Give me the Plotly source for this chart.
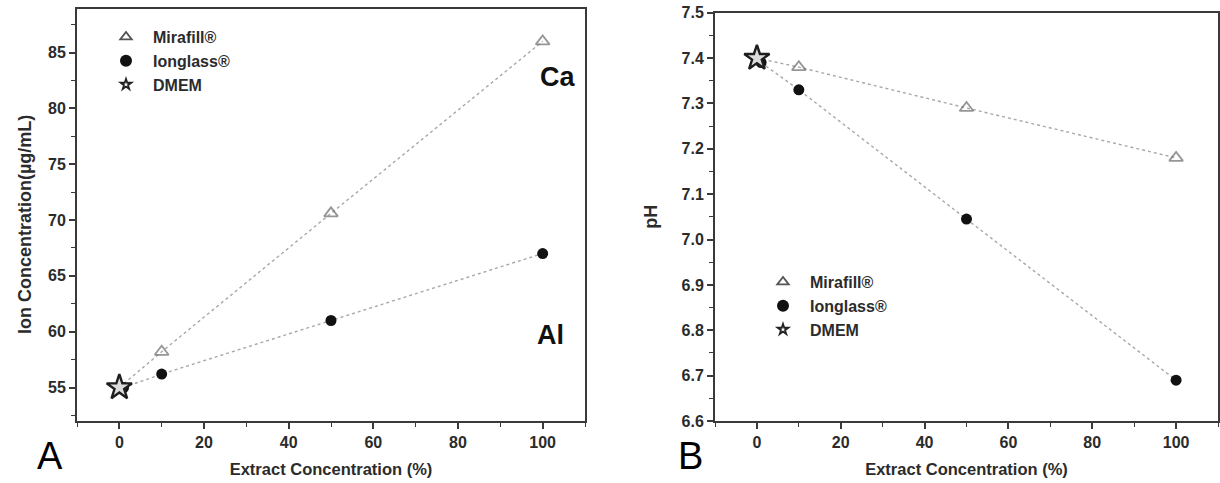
import plotly.graph_objects as go

# ---- data ----
conc = [10, 50, 100]
ion_mirafill = [58.2, 70.6, 86.0]
ion_ionglass = [56.2, 61.0, 67.0]
ph_mirafill = [7.38, 7.29, 7.18]
ph_ionglass = [7.33, 7.045, 6.69]
dmem_x = [0]
dmem_ion = [55.0]
dmem_ph = [7.40]
# ionglass start point (plotted just right of DMEM star)
ion_start_x = 1
ion_start_ion = 55.0
ph_start_ionglass = 7.39

x_ticks = [0, 20, 40, 60, 80, 100]
ion_ticks = [55, 60, 65, 70, 75, 80, 85]
ph_ticks = [6.6, 6.7, 6.8, 6.9, 7.0, 7.1, 7.2, 7.3, 7.4, 7.5]

W, H = 1220, 483
FONT = "Liberation Sans"
TXT = "#2b2b2b"
LINE = "#3a3a3a"
GRAYLINE = "#a8a8a8"

fig = go.Figure()

def add_panel(xa, ya, mira_y, ion_y, dmem_y, start_ion, legend_name):
    fig.add_trace(go.Scatter(x=[0] + conc, y=[dmem_y[0]] + mira_y, mode="lines+markers",
                             line=dict(color=GRAYLINE, width=1.4, dash="dot"),
                             marker=dict(symbol=["circle"] + ["triangle-up-open"] * 3,
                                         size=[0, 12, 12, 12], color="#6a6a6a",
                                         line=dict(width=1.8, color="#6a6a6a")),
                             xaxis=xa, yaxis=ya, showlegend=False, hoverinfo="skip"))
    fig.add_trace(go.Scatter(x=[ion_start_x] + conc, y=[start_ion] + ion_y, mode="lines+markers",
                             line=dict(color=GRAYLINE, width=1.4, dash="dot"),
                             marker=dict(symbol="circle", size=11, color="#111111"),
                             xaxis=xa, yaxis=ya, showlegend=False, hoverinfo="skip"))
    fig.add_trace(go.Scatter(x=dmem_x, y=dmem_y, mode="markers",
                             marker=dict(symbol="star", size=19, color="#dcdcdc",
                                         line=dict(width=2.4, color="#1e1e1e")),
                             xaxis=xa, yaxis=ya, showlegend=False, hoverinfo="skip"))
    # legend entries
    fig.add_trace(go.Scatter(x=[None], y=[None], mode="markers", name="Mirafill®",
                             marker=dict(symbol="triangle-up-open", size=10, color="#555",
                                         line=dict(width=1.8, color="#555")),
                             xaxis=xa, yaxis=ya, legend=legend_name))
    fig.add_trace(go.Scatter(x=[None], y=[None], mode="markers", name="Ionglass®",
                             marker=dict(symbol="circle", size=12, color="#111"),
                             xaxis=xa, yaxis=ya, legend=legend_name))
    fig.add_trace(go.Scatter(x=[None], y=[None], mode="markers", name="DMEM",
                             marker=dict(symbol="star-open", size=8, color="#222",
                                         line=dict(width=1.8, color="#222")),
                             xaxis=xa, yaxis=ya, legend=legend_name))

add_panel("x", "y", ion_mirafill, ion_ionglass, dmem_ion, ion_start_ion, "legend")
add_panel("x2", "y2", ph_mirafill, ph_ionglass, dmem_ph, ph_start_ionglass, "legend2")

tickfont = dict(family=FONT, size=16, color=TXT, weight="bold")
xtitlefont = dict(family=FONT, size=16.5, color=TXT, weight="bold")
ytitlefont = dict(family=FONT, size=18, color=TXT, weight="bold")

def px_x(p):
    return p / W

def px_y(p):
    return 1 - p / H

common_x = dict(range=[-10, 110], tickvals=x_ticks, ticks="outside", ticklen=6, tickwidth=1.6,
                tickcolor=LINE, showline=True, linewidth=2, linecolor=LINE, mirror=True,
                showgrid=False, zeroline=False, tickfont=tickfont,
                minor=dict(dtick=10, tick0=0, ticks="outside", ticklen=4, tickwidth=1.4, tickcolor=LINE),
                automargin=False)
common_y = dict(ticks="outside", ticklen=6, tickwidth=1.6, tickcolor=LINE, showline=True,
                linewidth=2, linecolor=LINE, mirror=True, showgrid=False, zeroline=False,
                tickfont=tickfont, automargin=False)

legfont = dict(family=FONT, size=16, color=TXT, weight="bold")
LETTER_FONT = "Liberation Sans"

fig.update_layout(
    width=W, height=H, margin=dict(l=0, r=0, t=0, b=0),
    paper_bgcolor="white", plot_bgcolor="white",
    xaxis=dict(domain=[px_x(77), px_x(585)], anchor="y",
               title=dict(text="Extract Concentration (%)", font=xtitlefont, standoff=13), **common_x),
    yaxis=dict(domain=[px_y(421), px_y(9)], anchor="x", range=[52, 88.9], tickvals=ion_ticks,
               minor=dict(dtick=2.5, tick0=0, ticks="outside", ticklen=4, tickwidth=1.4, tickcolor=LINE),
               **common_y),
    xaxis2=dict(domain=[px_x(715), px_x(1218)], anchor="y2",
                title=dict(text="Extract Concentration (%)", font=xtitlefont, standoff=13), **common_x),
    yaxis2=dict(domain=[px_y(421), px_y(12.7)], anchor="x2", range=[6.6, 7.5], tickvals=ph_ticks,
                tickformat=".1f",
                minor=dict(dtick=0.05, tick0=0, ticks="outside", ticklen=4, tickwidth=1.4, tickcolor=LINE),
                title=dict(text="pH", font=ytitlefont, standoff=19), **common_y),
    legend=dict(x=px_x(99), y=px_y(20), xanchor="left", yanchor="top", bgcolor="rgba(0,0,0,0)",
                font=legfont, tracegroupgap=0, itemwidth=44),
    legend2=dict(x=px_x(756), y=px_y(265), xanchor="left", yanchor="top", bgcolor="rgba(0,0,0,0)",
                 font=legfont, tracegroupgap=0, itemwidth=44),
    annotations=[
        dict(text="Ion Concentration(µg/mL)", x=px_x(25), y=px_y(225), xref="paper", yref="paper",
             showarrow=False, textangle=-90, xanchor="center", yanchor="middle", font=ytitlefont),
        dict(text="Ca", x=98.8, y=82.8, xref="x", yref="y", showarrow=False, xanchor="left",
             font=dict(family=FONT, size=27, color="#111", weight="bold")),
        dict(text="Al", x=98.1, y=59.7, xref="x", yref="y", showarrow=False, xanchor="left",
             font=dict(family=FONT, size=27, color="#111", weight="bold")),
        dict(text="A", x=px_x(50), y=px_y(456), xref="paper", yref="paper", showarrow=False,
             xanchor="center", yanchor="middle",
             font=dict(family=LETTER_FONT, size=38, color="#000")),
        dict(text="B", x=px_x(690), y=px_y(456), xref="paper", yref="paper", showarrow=False,
             xanchor="center", yanchor="middle",
             font=dict(family=LETTER_FONT, size=38, color="#000")),
    ],
)

fig.write_html("out.html", config={"displayModeBar": False},
               post_script="document.body.style.margin='0px';")
